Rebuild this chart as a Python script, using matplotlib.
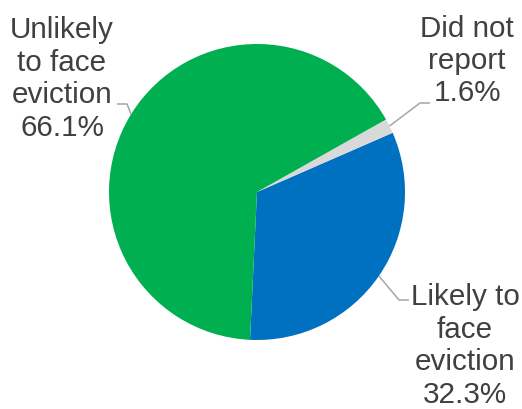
import numpy as np
import matplotlib.pyplot as plt

# pie data (counterclockwise order starting at the bottom)
labels = ['Likely to\nface\neviction', 'Did not\nreport', 'Unlikely\nto face\neviction']
values = [32.3, 1.6, 66.1]
colors = ['#0070C0', '#D9D9D9', '#00B050']

W, H = 522, 410
cx, cy, R = 257, 193, 148   # pie centre and radius in pixels


def to_data(px, py):
    return (px - cx) / R, (cy - py) / R


# label centres and leader-line text ends, in pixels
label_pos = [(465, 346), (467, 61), (62, 79)]
leader_end = [(409, 301), (430, 104), (117, 105)]

plt.rcParams['font.family'] = ['Liberation Sans', 'DejaVu Sans']

fig = plt.figure(figsize=(W / 100, H / 100), dpi=100)
ax = fig.add_axes([0, 0, 1, 1])

wedges, _ = ax.pie(values, colors=colors, startangle=-92.7, counterclock=True,
                   radius=1, center=(0, 0))

ax.set_xlim(-cx / R, (W - cx) / R)
ax.set_ylim(-(H - cy) / R, cy / R)
ax.set_aspect('auto')
ax.axis('off')

for w, lab, v, lp, le in zip(wedges, labels, values, label_pos, leader_end):
    mid = np.deg2rad((w.theta1 + w.theta2) / 2)
    ex, ey = np.cos(mid), np.sin(mid)
    tx, ty = to_data(*le)
    elbow = tx + (-10 / R if tx > 0 else 10 / R)
    ax.plot([ex, elbow, tx], [ey, ty, ty], color='#A6A6A6', lw=1.1,
            solid_capstyle='butt')
    x, y = to_data(*lp)
    ax.text(x, y, f'{lab}\n{v:.1f}%', ha='center', va='center',
            fontsize=21.3, color='#404040', linespacing=1.2)

fig.savefig('out.png', dpi=100)
